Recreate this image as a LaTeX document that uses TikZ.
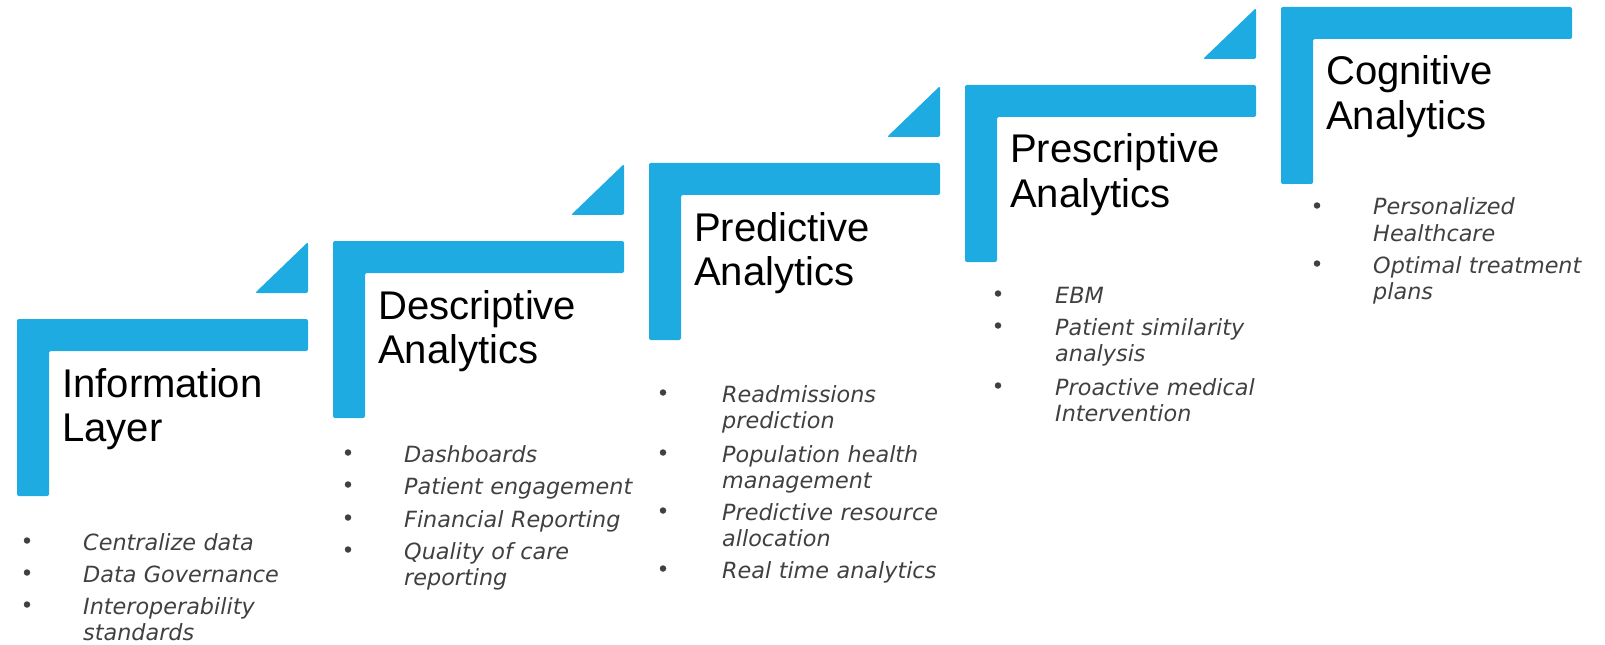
\documentclass[tikz,border=0pt]{standalone}
\usepackage{fontspec}
\setmainfont{Liberation Sans}
\newfontfamily\listfont{DejaVu Sans}
\usepackage{tikz}
\definecolor{stairblue}{RGB}{30,171,226}
\definecolor{listgray}{RGB}{64,64,64}

\begin{document}
\begin{tikzpicture}[x=1bp,y=-1bp,line join=round,
    stair/.style={fill=stairblue,rounded corners=2bp},
    title/.style={anchor=base west,inner sep=0pt,text width=300bp,align=left,
      font=\fontsize{40.2}{44.2}\selectfont,text=black},
    item/.style={anchor=base west,inner sep=0pt,text width=250bp,align=left,
      font=\listfont\itshape\fontsize{22.4}{26.1}\selectfont,text=listgray},
    dot/.style={circle,fill=listgray,inner sep=0pt,minimum size=6.5bp}]
    \useasboundingbox (0,0) rectangle (1605,645);
    % the five steps
    \foreach \k in {0,...,4}
    \fill[stair,shift={(316*\k,-78*\k)}] (17,496) -- (17,319) -- (308,319) -- (308,351) -- (49,351) -- (49,496) -- cycle;
    \foreach \k in {0,...,3}
    \fill[stair,shift={(316*\k,-78*\k)}] (255,293) -- (308,242) -- (308,293) -- cycle;
    % titles
    \node[title] (info) at (62,397) {Information\\Layer};
    \node[title] (descr) at (378,319) {Descriptive\\Analytics};
    \node[title] (pred) at (694,241) {Predictive\\Analytics};
    \node[title] (presc) at (1010,163) {Prescriptive\\Analytics};
    \node[title] (cogn) at (1326,85) {Cognitive\\Analytics};
    % bullet lists
    \foreach \yy/\txt in {550/Centralize data,582/Data Governance,614/{Interoperability\\standards}}
    {
      \node[dot] (dinfo\yy) at (27,\yy-9.5) {};
      \node[item] (iinfo\yy) at (83,\yy) {\txt};
    }
    \foreach \yy/\txt in {462/Dashboards,494/Patient engagement,527/Financial Reporting,559/{Quality of care\\reporting}}
    {
      \node[dot] (ddescr\yy) at (348,\yy-9.5) {};
      \node[item] (idescr\yy) at (404,\yy) {\txt};
    }
    \foreach \yy/\txt in {402/{Readmissions\\prediction},462/{Population health\\management},520/{Predictive resource\\allocation},578/Real time analytics}
    {
      \node[dot] (dpred\yy) at (663,\yy-9.5) {};
      \node[item] (ipred\yy) at (722,\yy) {\txt};
    }
    \foreach \yy/\txt in {303/EBM,335/{Patient similarity\\analysis},395/{Proactive medical\\Intervention}}
    {
      \node[dot] (dpresc\yy) at (998,\yy-9.5) {};
      \node[item] (ipresc\yy) at (1055,\yy) {\txt};
    }
    \foreach \yy/\txt in {215/{Personalized\\Healthcare},273/{Optimal treatment\\plans}}
    {
      \node[dot] (dcogn\yy) at (1317,\yy-9.5) {};
      \node[item] (icogn\yy) at (1373,\yy) {\txt};
    }
\end{tikzpicture}
\end{document}
